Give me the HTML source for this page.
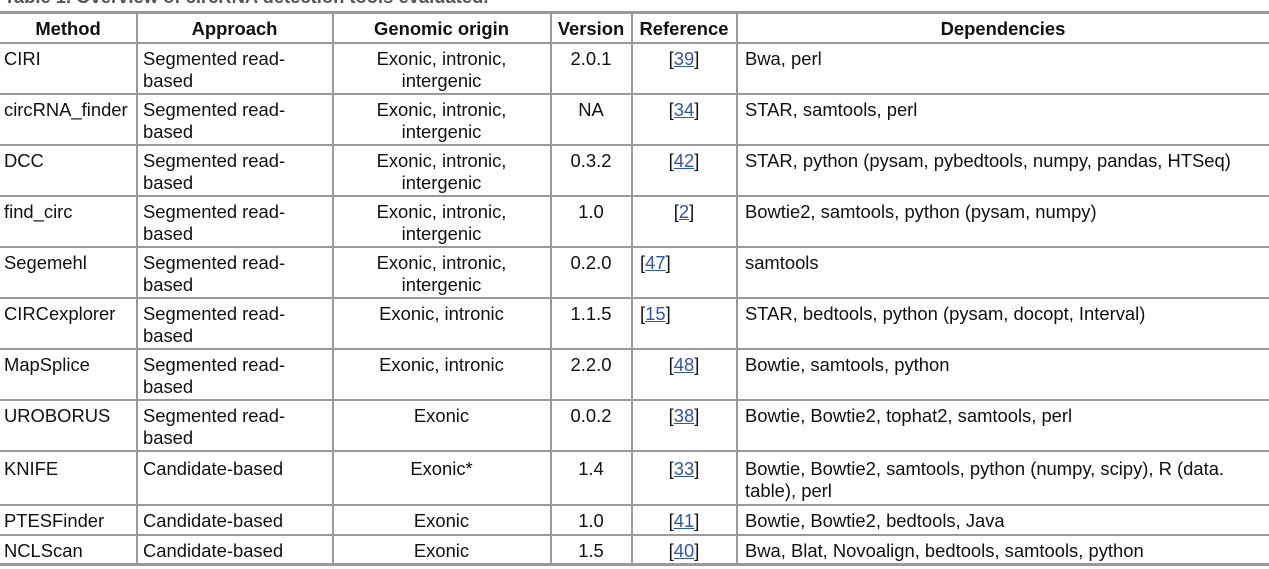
<!DOCTYPE html>
<html><head><meta charset="utf-8"><style>
body{margin:0;width:1269px;height:569px;overflow:hidden;background:#fff;font-family:"Liberation Sans",Arial,sans-serif;font-size:18.4px;color:#111;position:relative}
.h{position:absolute;left:0;width:1269px;background:#9a9a9a;height:2px}
.v{position:absolute;top:12px;height:553px;width:2px;background:#9a9a9a}
.t{position:absolute;line-height:22px;white-space:nowrap}
.c{text-align:center}
b{font-weight:bold}
a{color:#3355aa;text-decoration:underline}
</style></head><body>
<div class="t" style="left:4px;top:-14px;font-weight:bold;color:#555">Table 1. Overview of circRNA detection tools evaluated.</div>
<div class="h" style="top:11px;height:3px"></div>
<div class="h" style="top:42px"></div>
<div class="h" style="top:93px"></div>
<div class="h" style="top:144px"></div>
<div class="h" style="top:195px"></div>
<div class="h" style="top:246px"></div>
<div class="h" style="top:297px"></div>
<div class="h" style="top:348px"></div>
<div class="h" style="top:399px"></div>
<div class="h" style="top:450px"></div>
<div class="h" style="top:504px"></div>
<div class="h" style="top:534px"></div>
<div class="h" style="top:563px;height:3px"></div>
<div class="v" style="left:136px"></div>
<div class="v" style="left:332px"></div>
<div class="v" style="left:550px"></div>
<div class="v" style="left:631px"></div>
<div class="v" style="left:736px"></div>

<div class="t" style="top:18px;left:0;width:136px;text-align:center"><b>Method</b></div>
<div class="t" style="top:18px;left:137px;width:195px;text-align:center"><b>Approach</b></div>
<div class="t" style="top:18px;left:333px;width:217px;text-align:center"><b>Genomic origin</b></div>
<div class="t" style="top:18px;left:551px;width:80px;text-align:center"><b>Version</b></div>
<div class="t" style="top:18px;left:632px;width:104px;text-align:center"><b>Reference</b></div>
<div class="t" style="top:18px;left:737px;width:532px;text-align:center"><b>Dependencies</b></div>

<div class="t" style="top:48px;left:4px">CIRI</div>
<div class="t" style="top:48px;left:143px">Segmented read-<br>based</div>
<div class="t c" style="top:48px;left:333px;width:217px">Exonic, intronic,<br>intergenic</div>
<div class="t c" style="top:48px;left:551px;width:80px">2.0.1</div>
<div class="t c" style="top:48px;left:632px;width:104px">[<a>39</a>]</div>
<div class="t" style="top:48px;left:745px">Bwa, perl</div>

<div class="t" style="top:99px;left:4px">circRNA_finder</div>
<div class="t" style="top:99px;left:143px">Segmented read-<br>based</div>
<div class="t c" style="top:99px;left:333px;width:217px">Exonic, intronic,<br>intergenic</div>
<div class="t c" style="top:99px;left:551px;width:80px">NA</div>
<div class="t c" style="top:99px;left:632px;width:104px">[<a>34</a>]</div>
<div class="t" style="top:99px;left:745px">STAR, samtools, perl</div>

<div class="t" style="top:150px;left:4px">DCC</div>
<div class="t" style="top:150px;left:143px">Segmented read-<br>based</div>
<div class="t c" style="top:150px;left:333px;width:217px">Exonic, intronic,<br>intergenic</div>
<div class="t c" style="top:150px;left:551px;width:80px">0.3.2</div>
<div class="t c" style="top:150px;left:632px;width:104px">[<a>42</a>]</div>
<div class="t" style="top:150px;left:745px">STAR, python (pysam, pybedtools, numpy, pandas, HTSeq)</div>

<div class="t" style="top:201px;left:4px">find_circ</div>
<div class="t" style="top:201px;left:143px">Segmented read-<br>based</div>
<div class="t c" style="top:201px;left:333px;width:217px">Exonic, intronic,<br>intergenic</div>
<div class="t c" style="top:201px;left:551px;width:80px">1.0</div>
<div class="t c" style="top:201px;left:632px;width:104px">[<a>2</a>]</div>
<div class="t" style="top:201px;left:745px">Bowtie2, samtools, python (pysam, numpy)</div>

<div class="t" style="top:252px;left:4px">Segemehl</div>
<div class="t" style="top:252px;left:143px">Segmented read-<br>based</div>
<div class="t c" style="top:252px;left:333px;width:217px">Exonic, intronic,<br>intergenic</div>
<div class="t c" style="top:252px;left:551px;width:80px">0.2.0</div>
<div class="t" style="top:252px;left:640px">[<a>47</a>]</div>
<div class="t" style="top:252px;left:745px">samtools</div>

<div class="t" style="top:303px;left:4px">CIRCexplorer</div>
<div class="t" style="top:303px;left:143px">Segmented read-<br>based</div>
<div class="t c" style="top:303px;left:333px;width:217px">Exonic, intronic</div>
<div class="t c" style="top:303px;left:551px;width:80px">1.1.5</div>
<div class="t" style="top:303px;left:640px">[<a>15</a>]</div>
<div class="t" style="top:303px;left:745px">STAR, bedtools, python (pysam, docopt, Interval)</div>

<div class="t" style="top:354px;left:4px">MapSplice</div>
<div class="t" style="top:354px;left:143px">Segmented read-<br>based</div>
<div class="t c" style="top:354px;left:333px;width:217px">Exonic, intronic</div>
<div class="t c" style="top:354px;left:551px;width:80px">2.2.0</div>
<div class="t c" style="top:354px;left:632px;width:104px">[<a>48</a>]</div>
<div class="t" style="top:354px;left:745px">Bowtie, samtools, python</div>

<div class="t" style="top:405px;left:4px">UROBORUS</div>
<div class="t" style="top:405px;left:143px">Segmented read-<br>based</div>
<div class="t c" style="top:405px;left:333px;width:217px">Exonic</div>
<div class="t c" style="top:405px;left:551px;width:80px">0.0.2</div>
<div class="t c" style="top:405px;left:632px;width:104px">[<a>38</a>]</div>
<div class="t" style="top:405px;left:745px">Bowtie, Bowtie2, tophat2, samtools, perl</div>

<div class="t" style="top:458px;left:4px">KNIFE</div>
<div class="t" style="top:458px;left:143px">Candidate-based</div>
<div class="t c" style="top:458px;left:333px;width:217px">Exonic*</div>
<div class="t c" style="top:458px;left:551px;width:80px">1.4</div>
<div class="t c" style="top:458px;left:632px;width:104px">[<a>33</a>]</div>
<div class="t" style="top:458px;left:745px">Bowtie, Bowtie2, samtools, python (numpy, scipy), R (data.<br>table), perl</div>

<div class="t" style="top:510px;left:4px">PTESFinder</div>
<div class="t" style="top:510px;left:143px">Candidate-based</div>
<div class="t c" style="top:510px;left:333px;width:217px">Exonic</div>
<div class="t c" style="top:510px;left:551px;width:80px">1.0</div>
<div class="t c" style="top:510px;left:632px;width:104px">[<a>41</a>]</div>
<div class="t" style="top:510px;left:745px">Bowtie, Bowtie2, bedtools, Java</div>

<div class="t" style="top:540px;left:4px">NCLScan</div>
<div class="t" style="top:540px;left:143px">Candidate-based</div>
<div class="t c" style="top:540px;left:333px;width:217px">Exonic</div>
<div class="t c" style="top:540px;left:551px;width:80px">1.5</div>
<div class="t c" style="top:540px;left:632px;width:104px">[<a>40</a>]</div>
<div class="t" style="top:540px;left:745px">Bwa, Blat, Novoalign, bedtools, samtools, python</div>
</body></html>
